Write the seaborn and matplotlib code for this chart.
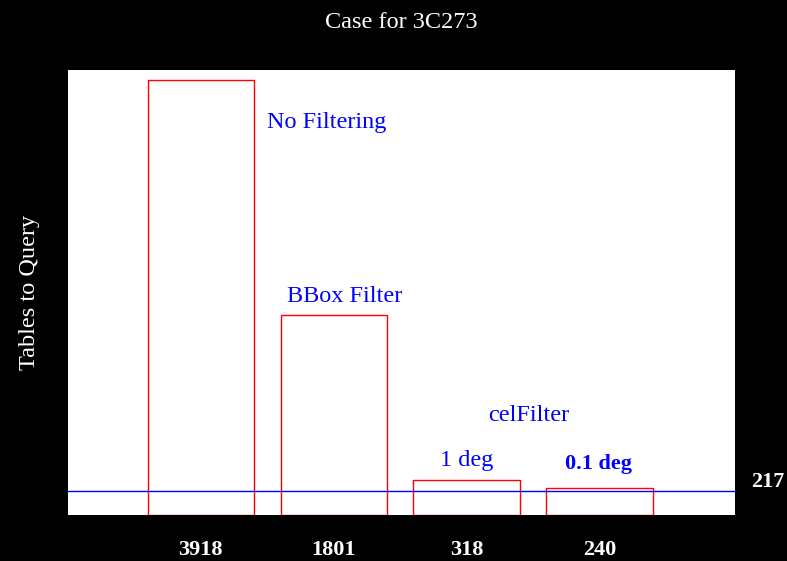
import matplotlib
matplotlib.use("Agg")
import matplotlib.pyplot as plt
import seaborn as sns
import pandas as pd

# ── datos ──────────
tables = [3918, 1801, 318, 240]
tick_labels = ["3918", "1801", "318", "240"]
threshold = 217
notes = ["No Filtering", "BBox Filter", "celFilter", "1 deg", "0.1 deg"]
note_x = [0.50, 0.65, 2.16, 1.80, 2.74]
note_y = [3535, 1965, 900, 495, 455]

df = pd.DataFrame({"caso": tick_labels, "tablas": tables})

sns.set_style("white")
plt.rcParams["font.family"] = ["Liberation Serif", "DejaVu Serif"]

fig = plt.figure(figsize=(7.87, 5.61), dpi=100, facecolor="black")
ax = fig.add_axes([68 / 787, 46 / 561, 667 / 787, 445 / 561])
ax.set_facecolor("white")

sns.barplot(data=df, x="caso", y="tablas", order=tick_labels, color="white",
            edgecolor="red", linewidth=1, width=0.8, saturation=1, ax=ax)
ax.axhline(threshold, color="blue", linewidth=1)

ax.set_xlim(-1, 4.02)
ax.set_ylim(0, 4008)
ax.set_yticks([])
ax.set_xticks(range(len(tick_labels)))
ax.set_xticklabels(tick_labels, color="white", fontweight="bold", fontsize=16)
ax.tick_params(axis="x", length=0, pad=18)
for s in ax.spines.values():
    s.set_visible(False)

ax.set_xlabel("")
ax.set_ylabel("Tables to Query", color="white", fontsize=17.5, labelpad=20)
ax.set_title("Case for 3C273", color="white", fontsize=17.5, pad=30)

for i, t in enumerate(notes):
    bold = t == "0.1 deg"
    ax.text(note_x[i], note_y[i], t, color="blue", va="center",
            fontsize=16 if bold else 17.5,
            fontweight="bold" if bold else "normal")

ax.text(4.145, 297, str(threshold), color="white", fontweight="bold",
        fontsize=16, va="center", clip_on=False)

plt.savefig("out.png", facecolor="black")
